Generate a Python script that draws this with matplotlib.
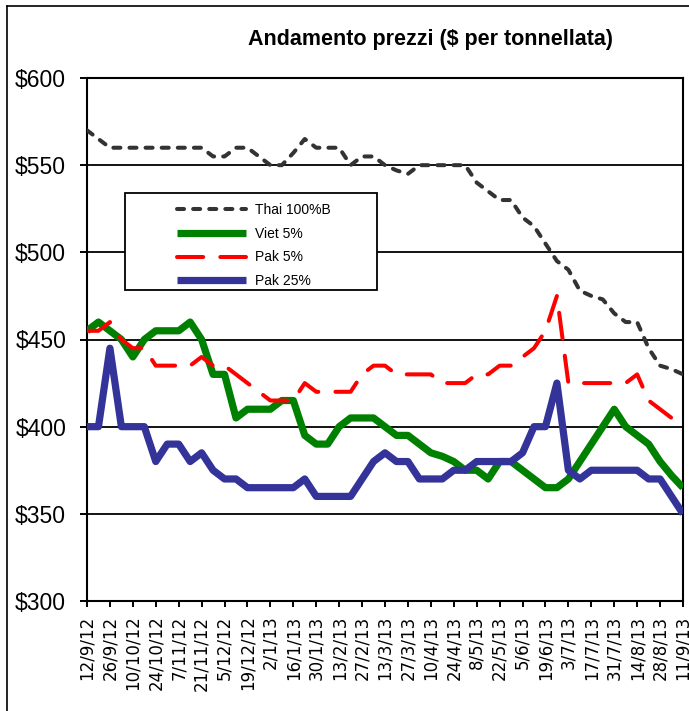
import numpy as np
import matplotlib
matplotlib.use("Agg")
import matplotlib.pyplot as plt
from matplotlib.lines import Line2D
from matplotlib.patches import Rectangle

plt.rcParams['font.family'] = ['Liberation Sans', 'DejaVu Sans']

# weekly prices, 12/9/12 .. 11/9/13 ($ per tonne)
thai = [570, 565, 560, 560, 560, 560, 560, 560, 560, 560, 560, 555, 555, 560, 560, 555,
        550, 550, 557, 565, 560, 560, 560, 550, 555, 555, 550, 547, 545, 550, 550, 550,
        550, 550, 540, 535, 530, 530, 520, 515, 505, 495, 490, 478, 475, 473, 465, 460,
        460, 445, 435, 433, 430]
viet = [455, 460, 455, 450, 440, 450, 455, 455, 455, 460, 450, 430, 430, 405, 410, 410,
        410, 415, 415, 395, 390, 390, 400, 405, 405, 405, 400, 395, 395, 390, 385, 383,
        380, 375, 375, 370, 380, 380, 375, 370, 365, 365, 370, 380, 390, 400, 410, 400,
        395, 390, 380, 372, 365]
pak5 = [455, 455, 460, 450, 445, 445, 435, 435, 435, 435, 440, 435, 435, 430, 425, 420,
        415, 415, 415, 425, 420, 420, 420, 420, 430, 435, 435, 430, 430, 430, 430, 425,
        425, 425, 430, 430, 435, 435, 440, 445, 455, 475, 425, 425, 425, 425, 425, 425,
        430, 415, 410, 405, 400]
pak25 = [400, 400, 445, 400, 400, 400, 380, 390, 390, 380, 385, 375, 370, 370, 365, 365,
         365, 365, 365, 370, 360, 360, 360, 360, 370, 380, 385, 380, 380, 370, 370, 370,
         375, 375, 380, 380, 380, 380, 385, 400, 400, 425, 375, 370, 375, 375, 375, 375,
         375, 370, 370, 360, 350]

date_labels = ['12/9/12', '26/9/12', '10/10/12', '24/10/12', '7/11/12', '21/11/12',
               '5/12/12', '19/12/12', '2/1/13', '16/1/13', '30/1/13', '13/2/13',
               '27/2/13', '13/3/13', '27/3/13', '10/4/13', '24/4/13', '8/5/13',
               '22/5/13', '5/6/13', '19/6/13', '3/7/13', '17/7/13', '31/7/13',
               '14/8/13', '28/8/13', '11/9/13']
y_ticks = [300, 350, 400, 450, 500, 550, 600]

W, H = 689, 711
fig = plt.figure(figsize=(W / 100, H / 100), dpi=100)
ax = fig.add_axes([87 / W, 1 - 601 / H, (683 - 87) / W, (601 - 78) / H])

x = np.arange(len(thai))
ax.plot(x, thai, color='#333333', lw=2.9, linestyle=(0, (1.75, 2.25)),
        dash_capstyle='round', label='Thai 100%B', zorder=3)
ax.plot(x, viet, color='#008000', lw=5.2, solid_capstyle='butt', label='Viet 5%', zorder=3)
ax.plot(x, pak5, color='#ff0000', lw=2.9, linestyle=(0, (6.5, 4.25)),
        dash_capstyle='round', label='Pak 5%', zorder=3)
ax.plot(x, pak25, color='#333399', lw=5.2, solid_capstyle='butt', label='Pak 25%', zorder=3)

ax.set_xlim(0, len(thai) - 1)
ax.set_ylim(300, 600)
ax.set_yticks(y_ticks)
ax.set_yticklabels(['$%d' % v for v in y_ticks])
ax.set_xticks(x[::2])
ax.set_xticklabels(date_labels, rotation=90, family='DejaVu Sans', fontsize=12)
ax.yaxis.grid(True, color='black', lw=1.3)
ax.set_axisbelow(True)
for s in ax.spines.values():
    s.set_color('black')
    s.set_linewidth(1.5)
ax.tick_params(axis='y', length=5, width=1.4, pad=10, labelsize=16.5)
ax.tick_params(axis='x', length=4.5, width=1.4, pad=6)

# legend box
ax.add_patch(Rectangle((0.0638, 0.5946), 0.4228, 0.1855, transform=ax.transAxes,
                       facecolor='white', edgecolor='black', lw=1.3, zorder=4))
ax.legend(loc='upper left', bbox_to_anchor=(0.151, 0.761), frameon=False, borderpad=0,
          borderaxespad=0, handlelength=5.0, handletextpad=0.6, labelspacing=0.7,
          fontsize=10)

fig.text(430 / W, 1 - 40 / H, 'Andamento prezzi ($ per tonnellata)', ha='center',
         va='center', fontsize=15.5, fontweight='bold')

# outer chart border
fig.add_artist(Line2D([7 / W, 7 / W], [0, 1 - 6 / H], transform=fig.transFigure,
                      color='black', lw=1.2))
fig.add_artist(Line2D([7 / W, 1], [1 - 6 / H, 1 - 6 / H], transform=fig.transFigure,
                      color='black', lw=1.2))

fig.savefig('out.png', dpi=100)
